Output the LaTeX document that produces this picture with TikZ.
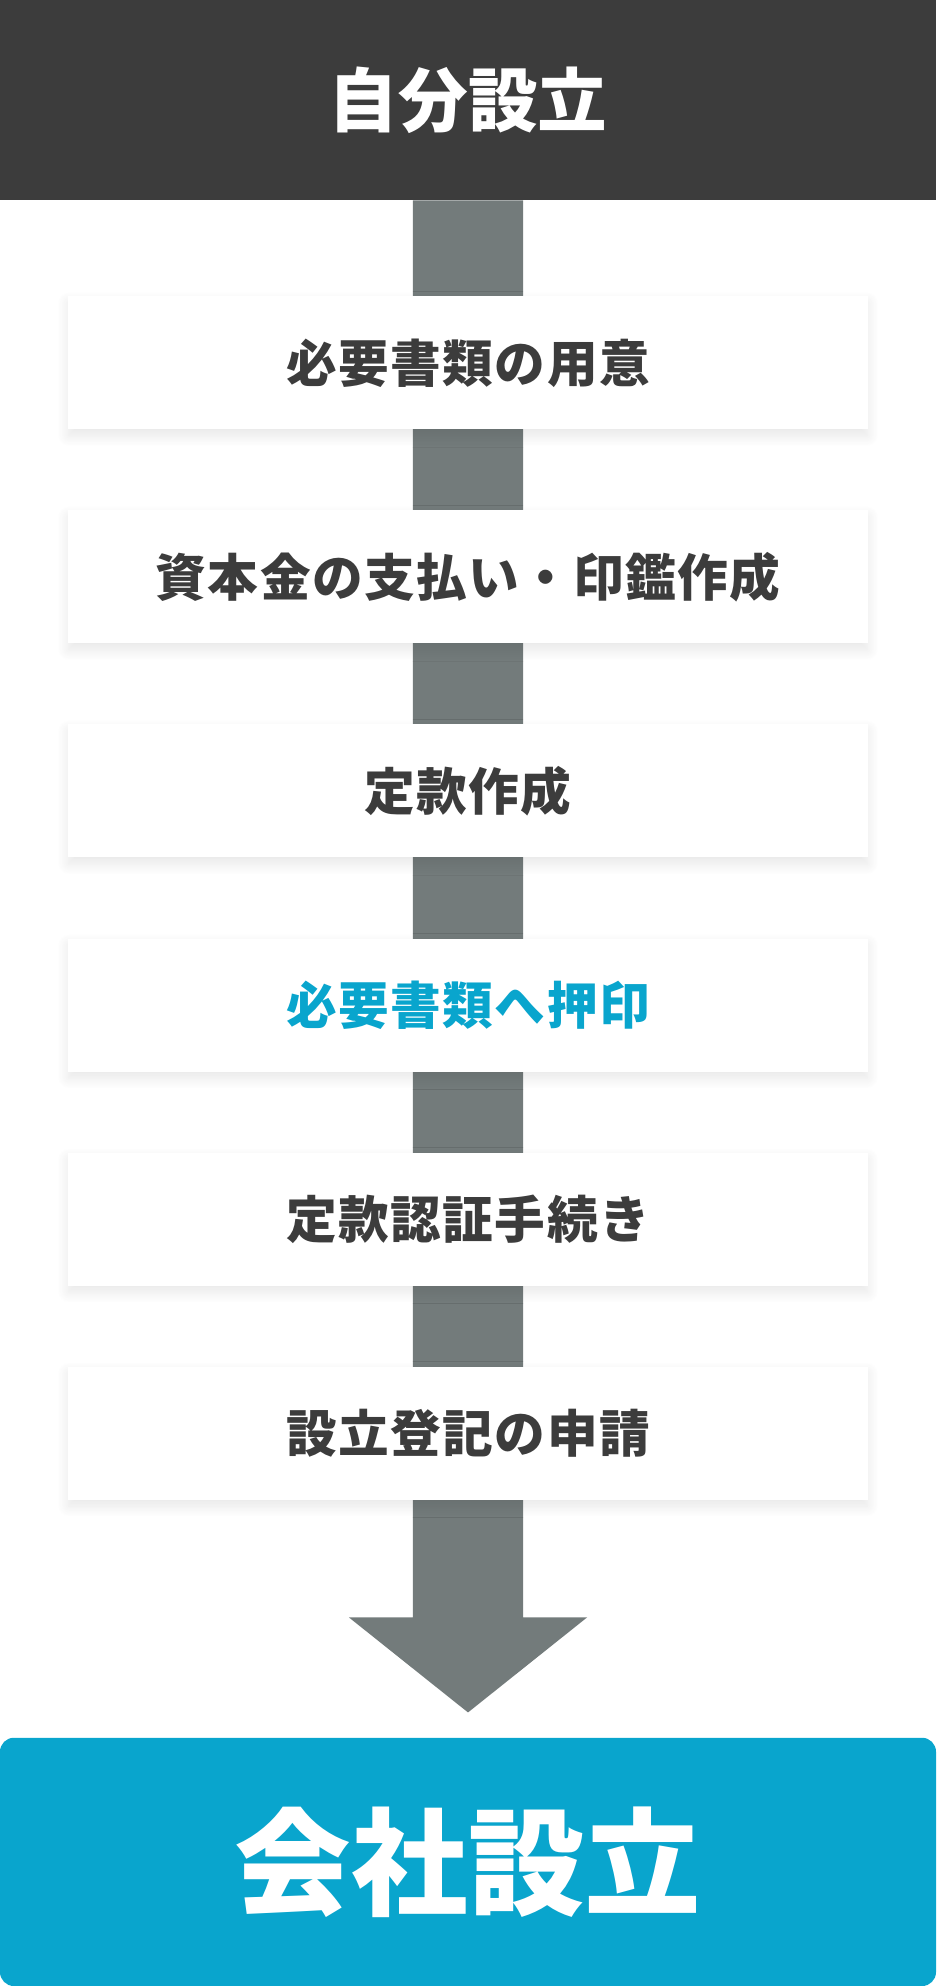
\documentclass[tikz,border=0pt]{standalone}
\usepackage{fontspec}
\setmainfont{Noto Sans CJK JP}
\usetikzlibrary{shadows.blur}
\definecolor{darkbar}{HTML}{3C3C3C}
\definecolor{barcol}{HTML}{737B7B}
\definecolor{bluecol}{HTML}{09A5CD}
\definecolor{txtcol}{HTML}{3C3C3C}
\tikzset{
  stepbox/.style={fill=white, minimum width=631pt, minimum height=105pt, inner sep=0pt,
    font=\fontsize{40}{43}\selectfont\bfseries\addfontfeature{LetterSpace=3}, text=txtcol,
    blur shadow={shadow xshift=0pt, shadow yshift=-5pt, shadow blur radius=9pt, shadow opacity=10, shadow blur steps=16}},
  headbox/.style={fill=darkbar, minimum width=739pt, minimum height=158pt, inner sep=0pt,
    font=\fontsize{55}{60}\selectfont\bfseries, text=white},
  endbox/.style={fill=bluecol, rounded corners=11pt, minimum width=739pt, minimum height=196pt, inner sep=0pt,
    font=\fontsize{92}{96}\selectfont\bfseries, text=white}
}
\begin{document}
\begin{tikzpicture}[x=1pt,y=-1pt]
\useasboundingbox (0,0) rectangle (739,1568);
% head
\node[headbox] (head) at (369.5,79) {自分設立};
% connector arrow (drawn behind boxes)
\coordinate (tip) at (369.5,1352);
\coordinate (neck) at (369.5,1277);
\fill[barcol] ([xshift=-43.5pt]head.south) -- ([xshift=43.5pt]head.south)
  -- ([xshift=43.5pt]neck) -- ([xshift=94pt]neck) -- (tip) -- ([xshift=-94pt]neck)
  -- ([xshift=-43.5pt]neck) -- cycle;
% steps
\node[stepbox] (s1) at (369.5,286.5) {必要書類の用意};
\node[stepbox] (s2) at (369.5,455.5) {資本金の支払い・印鑑作成};
\node[stepbox] (s3) at (369.5,624.5) {定款作成};
\node[stepbox, text=bluecol] (s4) at (369.5,793.5) {必要書類へ押印};
\node[stepbox] (s5) at (369.5,962.5) {定款認証手続き};
\node[stepbox] (s6) at (369.5,1131.5) {設立登記の申請};
% end
\node[endbox] (end) at (369.5,1470) {会社設立};
\end{tikzpicture}
\end{document}
